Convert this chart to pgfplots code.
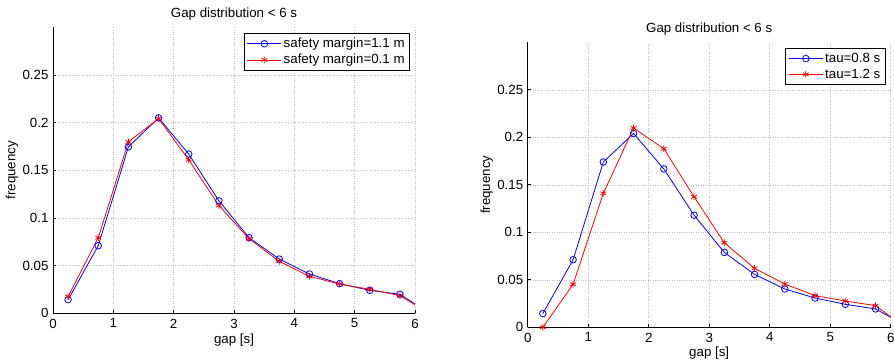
\documentclass[border=0pt]{standalone}
\usepackage{pgfplots}
\pgfplotsset{compat=1.18}
\usepackage{fontspec}
\setmainfont{Liberation Sans}
\newcommand{\fs}{\fontsize{13.3}{15.5}\selectfont}
\pgfplotsset{
  gapstyle/.style={
    scale only axis,
    xmin=0, xmax=6, ymin=0, ymax=0.3,
    xtick={0,1,2,3,4,5,6},
    ytick={0,0.05,0.1,0.15,0.2,0.25},
    scaled y ticks=false,
    yticklabel style={/pgf/number format/fixed,/pgf/number format/precision=2},
    /pgf/number format/assume math mode=true,
    tick label style={font=\fs},
    axis x line*=bottom, axis y line*=left,
    axis line style={black, line width=0.9pt, -},
    tick align=inside, major tick length=3pt,
    tick style={black, line width=0.6pt},
    grid=major,
    major grid style={dotted, gray!50, line width=0.5pt},
    xticklabel style={yshift=-2pt},
    yticklabel style={xshift=-1pt},
    title style={font=\fs, at={(0.5,1)}, anchor=base, yshift=4pt},
    title={Gap distribution < 6 s},
    xlabel={gap [s]}, ylabel={frequency},
    label style={font=\fs},
    clip=false,
    legend style={font=\fs, draw=black, line width=0.8pt, fill=white, at={(1,1)}, anchor=north east,
      xshift=-5pt, yshift=-6pt, inner xsep=3pt, inner ysep=2.5pt, row sep=1pt, cells={anchor=west}},
    legend image code/.code={\draw[mark repeat=2,mark phase=2,#1] plot coordinates {(0pt,0pt) (17pt,0pt) (34pt,0pt)};},
    blueser/.style={blue, line width=0.8pt, mark=o, mark size=3.3pt, mark options={solid, line width=0.8pt}},
    redser/.style={red, line width=0.8pt, mark=asterisk, mark size=3.3pt, mark options={solid, line width=0.8pt}},
  }
}
\begin{document}
\begin{tikzpicture}[x=1pt,y=1pt]
\useasboundingbox (0,0) rectangle (895,363);
\begin{axis}[gapstyle, at={(53pt,49.7pt)}, anchor=origin, width=362pt, height=286pt,
  xlabel style={at={(axis description cs:0.5,-0.0944)}, anchor=center},
  ylabel style={at={(axis description cs:-0.1133,0.5)}, anchor=center}]
\addplot[blueser] coordinates {(0.25,0.0143) (0.75,0.0709) (1.25,0.1746) (1.75,0.2050) (2.25,0.1670) (2.75,0.1180) (3.25,0.0793) (3.75,0.0569) (4.25,0.0412) (4.75,0.0311) (5.25,0.0241) (5.75,0.0199)};
\addlegendentry{safety margin=1.1 m}
\addplot[redser] coordinates {(0.25,0.0175) (0.75,0.0793) (1.25,0.1798) (1.75,0.2043) (2.25,0.1610) (2.75,0.1130) (3.25,0.0782) (3.75,0.0545) (4.25,0.0388) (4.75,0.0307) (5.25,0.0251) (5.75,0.0185)};
\addlegendentry{safety margin=0.1 m}
\addplot[blue, line width=0.8pt, forget plot] coordinates {(5.75,0.0199) (6,0.0098)};
\addplot[red, line width=0.8pt, forget plot] coordinates {(5.75,0.0185) (6,0.0090)};
\end{axis}
\begin{axis}[gapstyle, at={(527.7pt,35.7pt)}, anchor=origin, width=363pt, height=285pt,
  xlabel style={at={(axis description cs:0.5,-0.0912)}, anchor=center},
  ylabel style={at={(axis description cs:-0.1129,0.5)}, anchor=center}]
\addplot[blueser] coordinates {(0.25,0.0144) (0.75,0.0711) (1.25,0.1740) (1.75,0.2040) (2.25,0.1667) (2.75,0.1180) (3.25,0.0788) (3.75,0.0557) (4.25,0.0403) (4.75,0.0308) (5.25,0.0242) (5.75,0.0193)};
\addlegendentry{tau=0.8 s}
\addplot[redser] coordinates {(0.25,0.0000) (0.75,0.0452) (1.25,0.1410) (1.75,0.2097) (2.25,0.1880) (2.75,0.1373) (3.25,0.0890) (3.75,0.0620) (4.25,0.0455) (4.75,0.0333) (5.25,0.0277) (5.75,0.0228)};
\addlegendentry{tau=1.2 s}
\addplot[blue, line width=0.8pt, forget plot] coordinates {(5.75,0.0193) (6,0.0105)};
\addplot[red, line width=0.8pt, forget plot] coordinates {(5.75,0.0228) (6,0.0110)};
\end{axis}
\end{tikzpicture}
\end{document}
